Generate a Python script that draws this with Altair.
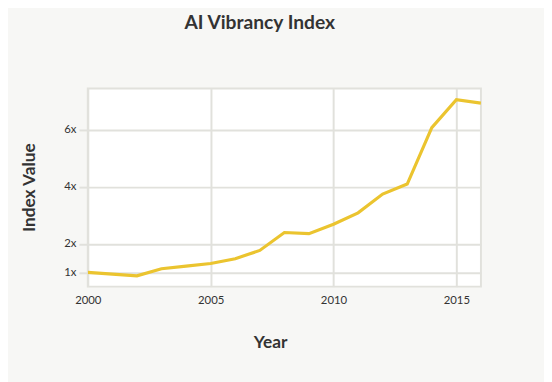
import altair as alt
import pandas as pd

years = [2000, 2001, 2002, 2003, 2004, 2005, 2006, 2007, 2008,
         2009, 2010, 2011, 2012, 2013, 2014, 2015, 2016]
values = [1.00, 0.94, 0.88, 1.13, 1.22, 1.31, 1.48, 1.77, 2.40,
          2.36, 2.69, 3.09, 3.75, 4.10, 6.08, 7.06, 6.94]
y_ticks = [1, 2, 4, 6]
x_ticks = [2000, 2005, 2010, 2015]

df = pd.DataFrame({"Year": years, "Value": values})

FONT = "Lato"
GRID = "#e1e1dc"
TEXT = "#333333"

chart = (
    alt.Chart(df)
    .mark_line(color="#ebc42f", strokeWidth=3.2, clip=True)
    .encode(
        x=alt.X(
            "Year:Q",
            scale=alt.Scale(domain=[2000, 2016], nice=False, zero=False),
            axis=alt.Axis(
                values=x_ticks,
                format="d",
                title="Year",
                grid=True,
                gridColor=GRID,
                gridWidth=2,
                ticks=False,
                domain=False,
                labelFlush=False,
                labelPadding=8,
                labelFontSize=11.5,
                labelColor=TEXT,
                labelFont=FONT,
                titleFont=FONT,
                titleFontSize=17.5,
                titleFontWeight="bold",
                titleColor=TEXT,
                titleX=185,
                titleY=57,
                titleBaseline="middle",
            ),
        ),
        y=alt.Y(
            "Value:Q",
            scale=alt.Scale(domain=[0.5, 7.45], nice=False, zero=False),
            axis=alt.Axis(
                values=y_ticks,
                labelExpr="datum.value + 'x'",
                title="Index Value",
                grid=True,
                gridColor=GRID,
                gridWidth=2,
                ticks=True,
                tickColor=GRID,
                tickWidth=2,
                tickSize=9,
                domain=False,
                labelFlush=False,
                labelPadding=3,
                labelFontSize=11.5,
                labelColor=TEXT,
                labelFont=FONT,
                titleFont=FONT,
                titleFontSize=17.5,
                titleFontWeight="bold",
                titleColor=TEXT,
                titleX=-59,
                titleY=100,
                titleBaseline="middle",
                titleAlign="center",
            ),
        ),
    )
    .properties(
        width=399,
        height=201,
        autosize=alt.AutoSizeParams(type="none"),
        padding={"left": 81, "top": 79, "right": 64, "bottom": 94},
        background="#f7f7f5",
        title=alt.TitleParams(
            "AI Vibrancy Index",
            font=FONT,
            fontSize=19.5,
            fontWeight="bold",
            color=TEXT,
            anchor="middle",
            dx=-25,
            offset=56,
        ),
    )
    .configure_view(fill="white", stroke=GRID, strokeWidth=2)
)

chart.save("out.html", embed_options={"renderer": "svg", "actions": False})
